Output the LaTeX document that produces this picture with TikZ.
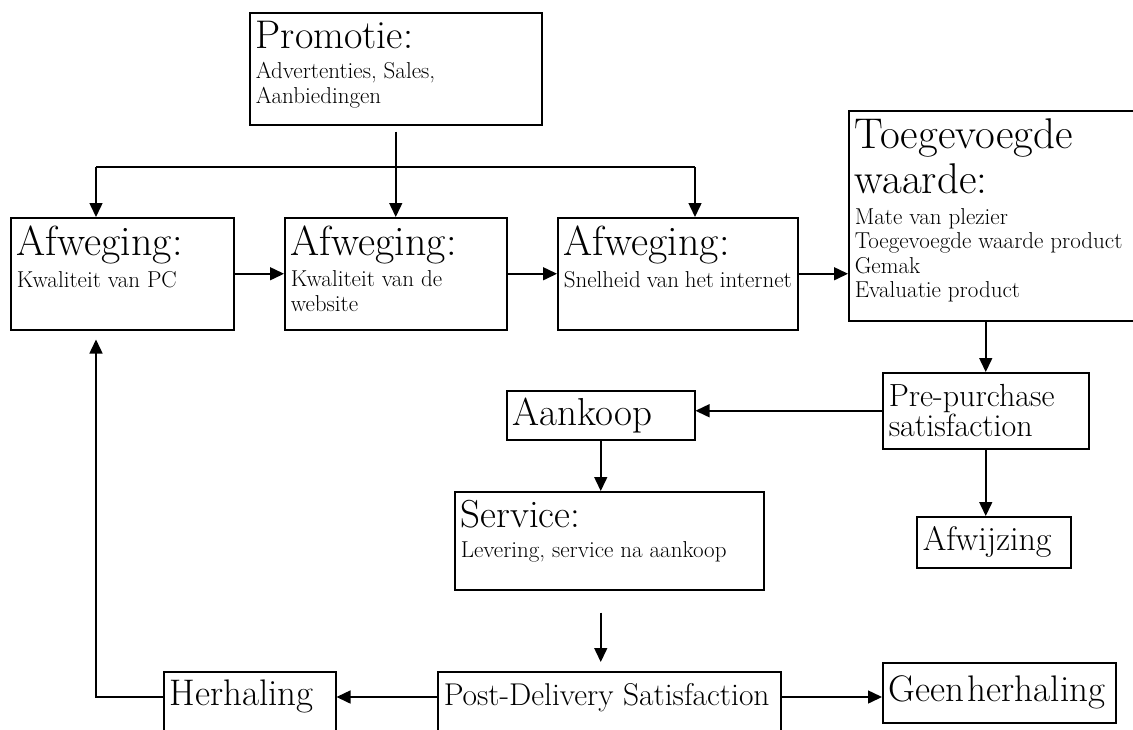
\documentclass[tikz,border=0pt]{standalone}
\usepackage{tikz}
\usetikzlibrary{arrows.meta, positioning}

\tikzset{
    box/.style={
        draw=black,
        line width=1.5pt,
        anchor=north west,
        inner xsep=6pt,
        inner ysep=8pt
    },
    plainbox/.style={
        draw=black,
        line width=1.5pt,
        anchor=north west,
        inner xsep=6pt,
        inner ysep=0pt,
        align=left
    },
    line/.style={line width=1.5pt},
    arrow/.style={line width=1.5pt, -{Triangle[length=14pt,width=13pt]}}
}

% top aligned text block: width, height, text
\newcommand{\boxtxt}[3]{\parbox[c][#2][t]{#1}{#3}}
\newcommand{\headfont}[1]{\fontsize{#1}{45}\selectfont}
\newcommand{\smallfont}{\par\vspace{6pt}\fontsize{23}{24.5}\selectfont}

\begin{document}
\begin{tikzpicture}[x=1pt, y=-1pt]

\clip (0,0) rectangle (1133,729);

\node (prom) [box] at (249,12)
{\boxtxt{280pt}{96pt}{\headfont{40}Promotie:\smallfont Advertenties, Sales,\\Aanbiedingen}};

\node (af1) [box] at (10,217)
{\boxtxt{211pt}{96pt}{\headfont{42}Afweging:\smallfont Kwaliteit van PC}};

\node (af2) [box] at (284,217)
{\boxtxt{210pt}{96pt}{\headfont{42}Afweging:\smallfont Kwaliteit van de\\website}};

\node (af3) [box] at (557,217)
{\boxtxt{228pt}{96pt}{\headfont{42}Afweging:\smallfont Snelheid van het internet}};

\node (toeg) [box] at (848,110)
{\boxtxt{288pt}{194pt}{\headfont{43}Toegevoegde\\waarde:\smallfont Mate van plezier\\Toegevoegde waarde product\\Gemak\\Evaluatie product}};

\node (pre) [plainbox, text width=194pt, minimum height=76pt] at (882,372)
{\fontsize{32}{35}\selectfont Pre-purchase\\satisfaction};

\node (aank) [plainbox, text width=176pt, minimum height=49pt] at (506,390)
{\fontsize{39}{42}\selectfont Aankoop};

\node (afw) [plainbox, text width=142pt, minimum height=51pt] at (916,516)
{\fontsize{34}{38}\selectfont Afwijzing};

\node (serv) [box] at (454,491)
{\boxtxt{297pt}{82pt}{\headfont{39}Service:\smallfont Levering, service na aankoop}};

\node (herh) [box, inner ysep=8pt] at (163,671)
{\boxtxt{160pt}{60pt}{\fontsize{37}{40}\selectfont Herhaling}};

\node (post) [box, inner ysep=12pt] at (437,671)
{\boxtxt{331pt}{60pt}{\fontsize{31.5}{34}\selectfont Post-Delivery Satisfaction}};

\node (geen) [plainbox, text width=221pt, minimum height=60pt] at (882,662)
{\fontsize{37}{40}\selectfont Geen herhaling};

\coordinate (jl) at (96,167);
\coordinate (jr) at (695,167);
\coordinate (brow) at (0,697);

\draw [arrow, shorten <=6pt] (prom.south) -- (af2.north);
\draw [line] (jl) -- (jr);
\draw [arrow] (jl) -- (jl |- af1.north);
\draw [arrow] (jr) -- (jr |- af3.north);

\draw [arrow] (af1.east) -- (af2.west);
\draw [arrow] (af2.east) -- (af3.west);
\draw [arrow] (af3.east) -- (af3.east -| toeg.west);

\draw [arrow] (toeg.south -| pre.north) -- (pre.north);
\draw [arrow] (pre.west) -- (pre.west -| aank.east);
\draw [arrow] (pre.south) -- (pre.south |- afw.north);

\draw [arrow] (aank.south) -- (aank.south |- serv.north);
\draw [arrow, shorten <=22pt, shorten >=9pt] (aank.south |- serv.south) -- (aank.south |- post.north);

\draw [arrow] (post.west |- brow) -- (herh.east |- brow);
\draw [arrow] (post.east |- brow) -- (geen.west |- brow);
\draw [arrow, shorten >=9pt] (herh.west |- brow) -| (jl |- af1.south);

\end{tikzpicture}
\end{document}
